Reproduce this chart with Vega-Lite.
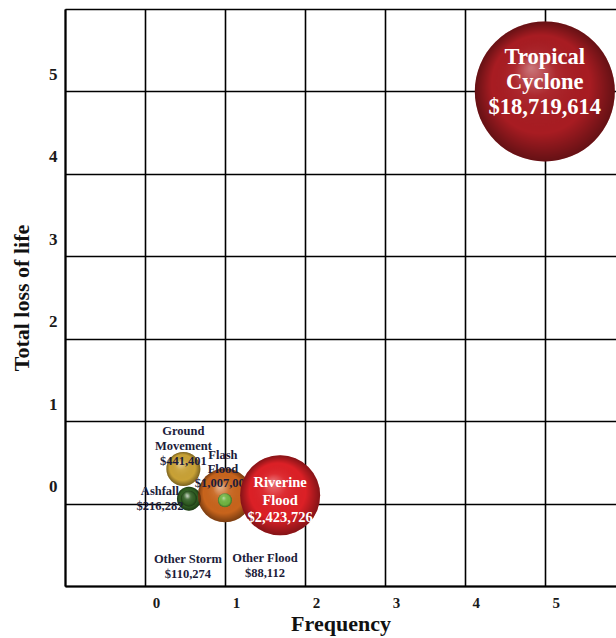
{
  "$schema": "https://vega.github.io/schema/vega-lite/v6.json",
  "width": 551,
  "height": 577,
  "autosize": {"type": "none"},
  "padding": {"left": 65, "top": 9, "right": 0, "bottom": 52},
  "background": "white",
  "config": {"view": {"stroke": null}},
  "data": {
    "values": [
      {"name": "Other Storm", "frequency": 0.55, "deaths": 0.06, "loss": 110274, "label": "Other Storm\n$110,274"},
      {"name": "Ground Movement", "frequency": 0.48, "deaths": 0.42, "loss": 441401, "label": "Ground\nMovement\n$441,401"},
      {"name": "Ashfall", "frequency": 0.55, "deaths": 0.06, "loss": 216282, "label": "Ashfall\n$216,282"},
      {"name": "Flash Flood", "frequency": 1.0, "deaths": 0.1, "loss": 1007000, "label": "Flash\nFlood\n$1,007,000"},
      {"name": "Other Flood", "frequency": 1.0, "deaths": 0.04, "loss": 88112, "label": "Other Flood\n$88,112"},
      {"name": "Riverine Flood", "frequency": 1.69, "deaths": 0.1, "loss": 2423726, "label": "Riverine\nFlood\n$2,423,726"},
      {"name": "Tropical Cyclone", "frequency": 5, "deaths": 5, "loss": 18719614, "label": "Tropical\nCyclone\n$18,719,614"}
    ]
  },
  "encoding": {
    "x": {
      "field": "frequency", "type": "quantitative",
      "scale": {"domain": [-1, 5.89], "nice": false, "zero": false},
      "axis": {
        "values": [-1, 0, 1, 2, 3, 4, 5],
        "title": "Frequency",
        "grid": true, "gridColor": "#000000", "gridWidth": 1.6, "gridOpacity": 1,
        "domain": true, "domainColor": "#000000", "domainWidth": 2,
        "ticks": false,
        "labelExpr": "datum.value < 0 ? '' : datum.label",
        "labelFlush": false, "labelOffset": 11, "labelPadding": 9,
        "labelFont": "Liberation Serif", "labelFontWeight": "bold", "labelFontSize": 15, "labelColor": "#1a1a1a",
        "titleFont": "Liberation Serif", "titleFontWeight": "bold", "titleFontSize": 22, "titleColor": "#111111",
        "titlePadding": 3
      }
    },
    "y": {
      "field": "deaths", "type": "quantitative",
      "scale": {"domain": [-1, 6], "nice": false, "zero": false},
      "axis": {
        "values": [-1, 0, 1, 2, 3, 4, 5, 6],
        "title": "Total loss of life",
        "grid": true, "gridColor": "#000000", "gridWidth": 1.6, "gridOpacity": 1,
        "domain": true, "domainColor": "#000000", "domainWidth": 2,
        "ticks": false,
        "labelExpr": "datum.value < 0 || datum.value > 5 ? '' : datum.label",
        "labelFlush": false, "labelOffset": -17, "labelPadding": 8,
        "labelFont": "Liberation Serif", "labelFontWeight": "bold", "labelFontSize": 17, "labelColor": "#1a1a1a",
        "titleFont": "Liberation Serif", "titleFontWeight": "bold", "titleFontSize": 22, "titleColor": "#111111",
        "titlePadding": 15
      }
    }
  },
  "layer": [
    {
      "transform": [{"filter": "datum.loss < 2000000"}],
      "mark": {"type": "point", "filled": true, "shape": "circle", "opacity": 1, "strokeWidth": 0},
      "encoding": {
        "size": {"field": "loss", "type": "quantitative", "legend": null,
          "scale": {"type": "linear", "domain": [88112, 110274, 216282, 441401, 1007000, 2423726, 18719614], "range": [196, 256, 576, 1156, 2916, 6400, 19600]}},
        "color": {"field": "name", "type": "nominal", "legend": null,
          "scale": {"domain": ["Other Storm", "Ground Movement", "Ashfall", "Flash Flood", "Other Flood", "Riverine Flood", "Tropical Cyclone"],
                    "range": ["#4a7a2a", "#c9a236", "#2f5e22", "#c8641c", "#6db43c", "#dc2026", "#a81c22"]}}
      }
    },
    {
      "transform": [{"filter": "datum.loss < 2000000"}],
      "mark": {"type": "point", "filled": true, "shape": "circle", "opacity": 1, "strokeWidth": 0,
        "fill": {"gradient": "radial", "x1": 0.4, "y1": 0.33, "r1": 0, "x2": 0.5, "y2": 0.5, "r2": 0.5,
          "stops": [{"offset": 0, "color": "rgba(255,255,255,0.55)"}, {"offset": 0.3, "color": "rgba(255,255,255,0.08)"}, {"offset": 0.75, "color": "rgba(0,0,0,0)"}, {"offset": 1, "color": "rgba(0,0,0,0.4)"}]}},
      "encoding": {"size": {"field": "loss", "type": "quantitative", "legend": null}}
    },
    {
      "transform": [{"filter": "datum.name == 'Ground Movement'"}],
      "mark": {"type": "text", "dx": 0, "dy": -38, "lineBreak": "\n", "lineHeight": 15, "font": "Liberation Serif", "fontWeight": "bold", "fontSize": 12.5, "color": "#1c1c3a", "align": "center", "baseline": "middle"},
      "encoding": {"text": {"field": "label", "type": "nominal"}}
    },
    {
      "transform": [{"filter": "datum.name == 'Flash Flood'"}],
      "mark": {"type": "text", "dx": -2, "dy": -40, "lineBreak": "\n", "lineHeight": 14, "font": "Liberation Serif", "fontWeight": "bold", "fontSize": 12.5, "color": "#1c1c3a", "align": "center", "baseline": "middle"},
      "encoding": {"text": {"field": "label", "type": "nominal"}}
    },
    {
      "transform": [{"filter": "datum.name == 'Ashfall'"}],
      "mark": {"type": "text", "dx": -29, "dy": -8, "lineBreak": "\n", "lineHeight": 15, "font": "Liberation Serif", "fontWeight": "bold", "fontSize": 12.5, "color": "#1c1c3a", "align": "center", "baseline": "middle"},
      "encoding": {"text": {"field": "label", "type": "nominal"}}
    },
    {
      "transform": [{"filter": "datum.name == 'Other Storm'"}],
      "mark": {"type": "text", "dx": -1, "dy": 60, "lineBreak": "\n", "lineHeight": 15, "font": "Liberation Serif", "fontWeight": "bold", "fontSize": 12.5, "color": "#1c1c3a", "align": "center", "baseline": "middle"},
      "encoding": {"text": {"field": "label", "type": "nominal"}}
    },
    {
      "transform": [{"filter": "datum.name == 'Other Flood'"}],
      "mark": {"type": "text", "dx": 40, "dy": 58, "lineBreak": "\n", "lineHeight": 15, "font": "Liberation Serif", "fontWeight": "bold", "fontSize": 12.5, "color": "#1c1c3a", "align": "center", "baseline": "middle"},
      "encoding": {"text": {"field": "label", "type": "nominal"}}
    },
    {
      "transform": [{"filter": "datum.loss >= 2000000"}],
      "mark": {"type": "point", "filled": true, "shape": "circle", "opacity": 1, "strokeWidth": 0},
      "encoding": {
        "size": {"field": "loss", "type": "quantitative", "legend": null},
        "color": {"field": "name", "type": "nominal", "legend": null}
      }
    },
    {
      "transform": [{"filter": "datum.loss >= 2000000"}],
      "mark": {"type": "point", "filled": true, "shape": "circle", "opacity": 1, "strokeWidth": 0,
        "fill": {"gradient": "radial", "x1": 0.4, "y1": 0.33, "r1": 0, "x2": 0.5, "y2": 0.5, "r2": 0.5,
          "stops": [{"offset": 0, "color": "rgba(255,255,255,0.4)"}, {"offset": 0.3, "color": "rgba(255,255,255,0.06)"}, {"offset": 0.7, "color": "rgba(0,0,0,0)"}, {"offset": 1, "color": "rgba(0,0,0,0.4)"}]}},
      "encoding": {"size": {"field": "loss", "type": "quantitative", "legend": null}}
    },
    {
      "transform": [{"filter": "datum.name == 'Riverine Flood'"}],
      "mark": {"type": "text", "dx": 0, "dy": -12, "lineBreak": "\n", "lineHeight": 17.5, "font": "Liberation Serif", "fontWeight": "bold", "fontSize": 14.5, "color": "#ffffff", "align": "center", "baseline": "middle"},
      "encoding": {"text": {"field": "label", "type": "nominal"}}
    },
    {
      "transform": [{"filter": "datum.name == 'Tropical Cyclone'"}],
      "mark": {"type": "text", "dx": 0, "dy": -34, "lineBreak": "\n", "lineHeight": 25, "font": "Liberation Serif", "fontWeight": "bold", "fontSize": 22.5, "color": "#ffffff", "align": "center", "baseline": "middle"},
      "encoding": {"text": {"field": "label", "type": "nominal"}}
    }
  ]
}
